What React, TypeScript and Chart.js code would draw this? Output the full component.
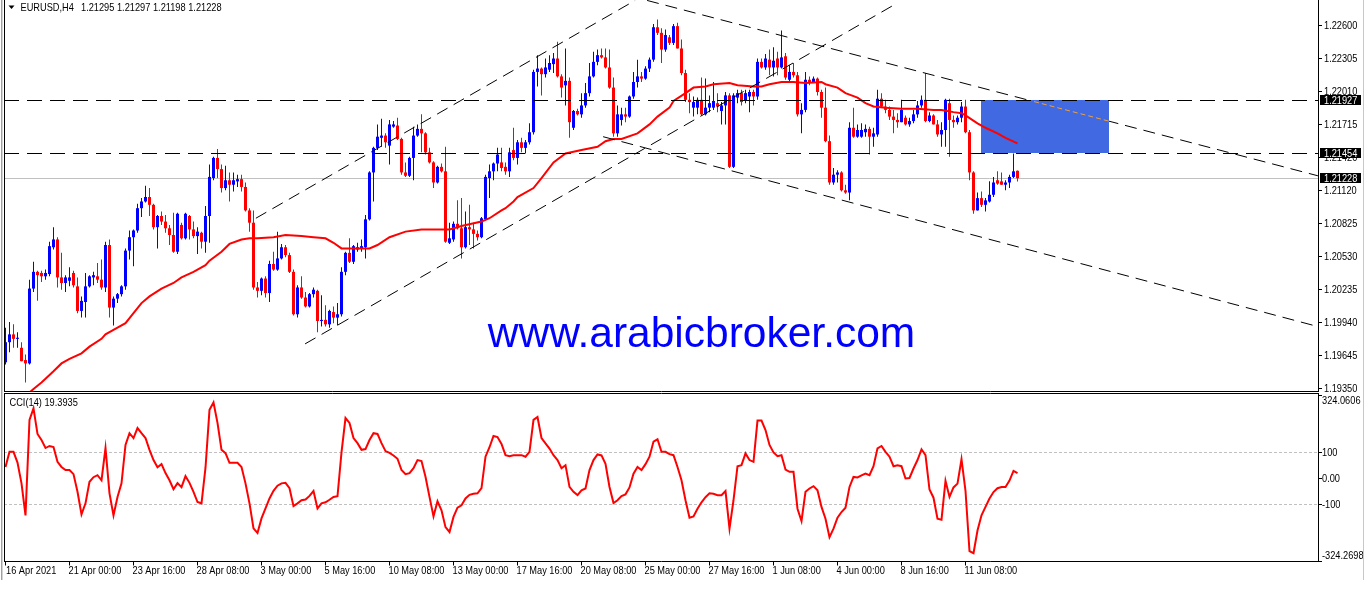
import { useEffect, useRef } from 'react';
import { Chart, registerables } from 'chart.js';

Chart.register(...registerables);

// ---------- DATA (EURUSD H4) ----------
const OPEN = [
1.1958,1.1976,1.1983,1.1979,1.1971,1.1960,1.1957,1.2024,1.2039,1.2038,
1.2035,1.2037,1.2061,1.2068,1.2034,1.2029,1.2031,1.2038,1.2026,1.2004,
1.2012,1.2026,1.2034,1.2035,1.2032,1.2025,1.2063,1.2007,1.2015,1.2019,
1.2026,1.2058,1.2070,1.2076,1.2096,1.2102,1.2106,1.2099,1.2079,1.2089,
1.2084,1.2078,1.2072,1.2057,1.2081,1.2069,1.2089,1.2077,1.2071,1.2074,
1.2066,1.2089,1.2123,1.2141,1.2131,1.2114,1.2121,1.2117,1.2120,1.2122,
1.2115,1.2094,1.2083,1.2025,1.2022,1.2033,1.2020,1.2046,1.2041,1.2051,
1.2061,1.2054,1.2039,1.2001,1.2025,1.2016,1.2008,1.2019,1.2022,1.1995,
1.1996,1.1992,1.2003,1.1998,1.2001,1.2039,1.2056,1.2048,1.2059,1.2060,
1.2061,1.2086,1.2128,1.2150,1.2159,1.2161,1.2152,1.2169,1.2170,1.2158,
1.2128,1.2125,1.2141,1.2161,1.2167,1.2163,1.2146,1.2137,1.2119,1.2133,
1.2129,1.2065,1.2068,1.2082,1.2078,1.2061,1.2079,1.2077,1.2073,1.2070,
1.2086,1.2123,1.2129,1.2136,1.2137,1.2133,1.2129,1.2148,1.2141,1.2155,
1.2150,1.2155,1.2164,1.2218,1.2221,1.2216,1.2220,1.2225,1.2230,1.2214,
1.2206,1.2210,1.2168,1.2183,1.2180,1.2188,1.2199,1.2214,1.2227,1.2233,
1.2231,1.2222,1.2204,1.2163,1.2175,1.2180,1.2178,1.2196,1.2209,1.2214,
1.2212,1.2221,1.2229,1.2258,1.2253,1.2238,1.2249,1.2244,1.2259,1.2239,
1.2217,1.2193,1.2186,1.2186,1.2193,1.2180,1.2186,1.2186,1.2190,1.2183,
1.2188,1.2197,1.2133,1.2195,1.2199,1.2192,1.2196,1.2200,1.2196,1.2227,
1.2222,1.2229,1.2222,1.2230,1.2222,1.2232,1.2211,1.2218,1.2215,1.2180,
1.2184,1.2211,1.2209,1.2212,1.2200,1.2186,1.2156,1.2119,1.2126,1.2128,
1.2112,1.2110,1.2168,1.2160,1.2160,1.2164,1.2167,1.2160,1.2162,1.2194,
1.2187,1.2184,1.2178,1.2175,1.2173,1.2177,1.2171,1.2174,1.2180,1.2188,
1.2193,1.2174,1.2179,1.2171,1.2162,1.2166,1.2190,1.2175,1.2173,1.2177,
1.2187,1.2164,1.2128,1.2094,1.2105,1.2099,1.2102,1.2108,1.2121,1.2120,
1.2117,1.2119,1.2124,1.21295
];
const HIGH = [
1.1989,1.1994,1.1992,1.1985,1.1976,1.1965,1.2032,1.2048,1.2040,1.2040,
1.2041,1.2066,1.2079,1.2070,1.2056,1.2036,1.2043,1.2040,1.2034,1.2017,
1.2038,1.2036,1.2039,1.2047,1.2050,1.2066,1.2068,1.2017,1.2020,1.2027,
1.2060,1.2076,1.2077,1.2100,1.2105,1.2116,1.2114,1.2100,1.2090,1.2093,
1.2090,1.2081,1.2092,1.2092,1.2083,1.2092,1.2090,1.2084,1.2079,1.2075,
1.2098,1.2135,1.2142,1.2149,1.2135,1.2134,1.2128,1.2128,1.2126,1.2126,
1.2119,1.2096,1.2094,1.2030,1.2034,1.2035,1.2049,1.2057,1.2075,1.2064,
1.2063,1.2056,1.2041,1.2027,1.2035,1.2021,1.2020,1.2025,1.2023,1.2018,
1.2009,1.2005,1.2008,1.2011,1.2043,1.2057,1.2069,1.2063,1.2065,1.2068,
1.2090,1.2129,1.2151,1.2171,1.2176,1.2163,1.2175,1.2174,1.2177,1.2159,
1.2137,1.2142,1.2169,1.2171,1.2180,1.2164,1.2150,1.2138,1.2134,1.2136,
1.2151,1.2083,1.2084,1.2103,1.2105,1.2093,1.2099,1.2083,1.2076,1.2088,
1.2126,1.2135,1.2137,1.2150,1.2150,1.2137,1.2150,1.2168,1.2157,1.2159,
1.2157,1.2172,1.2220,1.2233,1.2222,1.2230,1.2233,1.2235,1.2245,1.2216,
1.2239,1.2213,1.2184,1.2185,1.2199,1.2208,1.2226,1.2236,1.2238,1.2239,
1.2239,1.2238,1.2213,1.2188,1.2186,1.2186,1.2197,1.2218,1.2229,1.2218,
1.2223,1.2231,1.2261,1.2265,1.2257,1.2256,1.2251,1.2261,1.2262,1.2247,
1.2220,1.2199,1.2196,1.2195,1.2213,1.2212,1.2197,1.2209,1.2199,1.2191,
1.2200,1.2199,1.2199,1.2202,1.2202,1.2202,1.2202,1.2202,1.2230,1.2230,
1.2234,1.2238,1.2240,1.2236,1.2255,1.2235,1.2224,1.2226,1.2218,1.2190,
1.2218,1.2214,1.2214,1.2213,1.2202,1.2204,1.2161,1.2132,1.2130,1.2129,
1.2117,1.2173,1.2186,1.2171,1.2172,1.2171,1.2169,1.2168,1.2202,1.2199,
1.2193,1.2187,1.2184,1.2181,1.2193,1.2179,1.2177,1.2184,1.2192,1.2197,
1.2217,1.2182,1.2180,1.2175,1.2173,1.2194,1.2194,1.2179,1.2179,1.2191,
1.2193,1.2166,1.2129,1.2110,1.2111,1.2105,1.2120,1.2124,1.2129,1.2128,
1.2121,1.2126,1.2145,1.21297
];
const LOW = [
1.1956,1.1967,1.1971,1.1971,1.1959,1.1940,1.1956,1.2021,1.2013,1.2030,
1.2032,1.2035,1.2059,1.2025,1.2023,1.2021,1.2026,1.2025,1.2002,1.1998,
1.1998,1.2025,1.2027,1.2029,1.2023,1.2021,1.1998,1.1991,1.2011,1.2017,
1.2023,1.2050,1.2044,1.2074,1.2088,1.2101,1.2089,1.2077,1.2060,1.2081,
1.2074,1.2063,1.2056,1.2055,1.2068,1.2068,1.2068,1.2069,1.2055,1.2060,
1.2056,1.2065,1.2121,1.2123,1.2110,1.2112,1.2102,1.2111,1.2115,1.2111,
1.2093,1.2075,1.2023,1.2016,1.2018,1.2016,1.2012,1.2040,1.2040,1.2050,
1.2052,1.2038,1.2000,1.1998,1.2015,1.2007,1.2007,1.2016,1.1985,1.1990,
1.1990,1.1989,1.1993,1.1991,1.1999,1.2036,1.2047,1.2046,1.2057,1.2057,
1.2051,1.2085,1.2102,1.2148,1.2151,1.2150,1.2135,1.2168,1.2157,1.2126,
1.2124,1.2124,1.2121,1.2160,1.2146,1.2144,1.2136,1.2114,1.2118,1.2128,
1.2065,1.2064,1.2066,1.2077,1.2051,1.2060,1.2063,1.2060,1.2067,1.2069,
1.2085,1.2105,1.2121,1.2129,1.2129,1.2126,1.2124,1.2139,1.2135,1.2146,
1.2145,1.2153,1.2162,1.2205,1.2197,1.2213,1.2218,1.2217,1.2213,1.2195,
1.2188,1.2159,1.2166,1.2179,1.2177,1.2186,1.2196,1.2213,1.2224,1.2230,
1.2221,1.2203,1.2160,1.2160,1.2170,1.2173,1.2177,1.2194,1.2204,1.2209,
1.2211,1.2218,1.2227,1.2251,1.2226,1.2236,1.2242,1.2242,1.2239,1.2215,
1.2191,1.2181,1.2178,1.2180,1.2179,1.2179,1.2182,1.2184,1.2182,1.2171,
1.2171,1.2132,1.2132,1.2190,1.2188,1.2190,1.2182,1.2188,1.2193,1.2221,
1.2220,1.2215,1.2214,1.2215,1.2221,1.2211,1.2209,1.2213,1.2178,1.2163,
1.2182,1.2206,1.2208,1.2197,1.2177,1.2155,1.2117,1.2117,1.2119,1.2111,
1.2109,1.2103,1.2159,1.2159,1.2159,1.2160,1.2144,1.2151,1.2160,1.2186,
1.2181,1.2175,1.2163,1.2168,1.2173,1.2170,1.2169,1.2172,1.2177,1.2186,
1.2173,1.2173,1.2171,1.2160,1.2151,1.2151,1.2142,1.2168,1.2171,1.2173,
1.2163,1.2121,1.2091,1.2094,1.2097,1.2093,1.2101,1.2106,1.2117,1.2117,
1.2112,1.2114,1.2123,1.21198
];
const CLOSE = [
1.1976,1.1983,1.1979,1.1980,1.1959,1.1957,1.2024,1.2039,1.2036,1.2035,
1.2038,1.2062,1.2068,1.2034,1.2029,1.2034,1.2034,1.2027,1.2004,1.2013,
1.2026,1.2035,1.2036,1.2032,1.2025,1.2063,1.2007,1.2015,1.2019,1.2026,
1.2058,1.2070,1.2076,1.2096,1.2102,1.2106,1.2099,1.2079,1.2089,1.2084,
1.2078,1.2072,1.2057,1.2091,1.2069,1.2091,1.2077,1.2071,1.2075,1.2066,
1.2089,1.2124,1.2141,1.2131,1.2114,1.2121,1.2117,1.2121,1.2122,1.2115,
1.2094,1.2083,1.2025,1.2022,1.2033,1.2020,1.2046,1.2041,1.2051,1.2061,
1.2054,1.2039,1.2001,1.2025,1.2016,1.2008,1.2019,1.2023,1.1995,1.1996,
1.1992,1.2004,1.1998,1.2001,1.2039,1.2056,1.2048,1.2062,1.2061,1.2062,
1.2086,1.2128,1.2150,1.2160,1.2161,1.2155,1.2171,1.2171,1.2158,1.2128,
1.2125,1.2141,1.2161,1.2167,1.2163,1.2146,1.2137,1.2119,1.2133,1.2129,
1.2066,1.2069,1.2082,1.2078,1.2061,1.2079,1.2077,1.2073,1.2070,1.2087,
1.2124,1.2129,1.2136,1.2144,1.2132,1.2129,1.2146,1.2141,1.2155,1.2150,
1.2155,1.2164,1.2218,1.2221,1.2216,1.2222,1.2226,1.2230,1.2214,1.2204,
1.2210,1.2173,1.2183,1.2180,1.2188,1.2199,1.2214,1.2227,1.2233,1.2231,
1.2222,1.2204,1.2163,1.2180,1.2180,1.2178,1.2196,1.2209,1.2214,1.2212,
1.2221,1.2229,1.2258,1.2253,1.2238,1.2251,1.2244,1.2259,1.2239,1.2217,
1.2193,1.2191,1.2191,1.2193,1.2180,1.2186,1.2190,1.2192,1.2187,1.2188,
1.2197,1.2133,1.2197,1.2199,1.2191,1.2199,1.2200,1.2196,1.2227,1.2222,
1.2230,1.2222,1.2228,1.2222,1.2231,1.2213,1.2218,1.2215,1.2180,1.2184,
1.2211,1.2209,1.2212,1.2200,1.2186,1.2156,1.2119,1.2126,1.2128,1.2112,
1.2110,1.2168,1.2160,1.2166,1.2166,1.2167,1.2160,1.2163,1.2194,1.2187,
1.2184,1.2178,1.2175,1.2173,1.2184,1.2171,1.2174,1.2180,1.2188,1.2193,
1.2174,1.2179,1.2171,1.2162,1.2166,1.2193,1.2175,1.2173,1.2177,1.2187,
1.2164,1.2128,1.2094,1.2105,1.2099,1.2103,1.2108,1.2119,1.2118,1.2117,
1.2119,1.2124,1.2129,1.21228
];

// Moving average (read at sampled bars)
const MA_IDX = [6,7,9,12,14,16,19,21,24,25,28,30,32,34,36,39,42,44,47,50,51,54,56,59,61,63,67,70,74,77,80,82,84,86,91,93,96,100,104,107,111,114,119,121,124,125,127,128,132,134,137,140,144,148,150,152,154,158,161,163,166,167,170,172,175,177,181,183,187,189,191,194,197,200,204,205,208,210,213,215,217,220,224,228,232,234,237,239,240,243,245,248,250,253];
const MA_VAL = [1.1931,1.1934,1.1940,1.1950,1.1957,1.1961,1.1966,1.1972,1.1979,1.1983,1.1989,1.1993,1.2002,1.2011,1.2017,1.2024,1.2029,1.2034,1.2039,1.2045,1.2049,1.2057,1.2064,1.2068,1.2069,1.2069,1.2070,1.2072,1.2071,1.2070,1.2069,1.2065,1.2060,1.2060,1.2060,1.2063,1.2070,1.2075,1.2077,1.2077,1.2077,1.2080,1.2084,1.2087,1.2094,1.2096,1.2102,1.2106,1.2114,1.2123,1.2137,1.2145,1.2148,1.2151,1.2156,1.2158,1.2158,1.2163,1.2171,1.2178,1.2186,1.2192,1.2199,1.2204,1.2205,1.2207,1.2208,1.2206,1.2205,1.2205,1.2207,1.2209,1.2209,1.2208,1.2209,1.2207,1.2204,1.2199,1.2195,1.2190,1.2187,1.2186,1.2185,1.2185,1.2184,1.2184,1.2182,1.2181,1.2179,1.2172,1.2168,1.2163,1.2159,1.2154];

// CCI(14)
const CCI = [
43,102,102,60,-21,-146,227,272,172,148,
117,125,121,63,43,31,31,15,-54,-142,
-99,-15,3,11,-9,117,-60,-146,-74,-21,
129,175,156,195,175,156,110,70,42,54,
19,-9,-44,-20,-36,7,-19,-54,-94,-99,
40,266,295,215,110,97,59,59,59,43,
-21,-99,-197,-215,-158,-119,-80,-50,-30,-21,
-19,-40,-110,-99,-87,-84,-70,-51,-119,-99,
-95,-85,-74,-71,100,234,215,156,136,110,
113,148,175,172,136,105,98,88,75,31,
15,19,38,70,66,5,-74,-150,-91,-126,
-192,-211,-152,-116,-107,-80,-66,-62,-60,-40,
83,120,164,160,133,89,85,89,89,89,
83,102,227,238,156,135,115,89,70,38,
50,-35,-54,-67,-48,-41,31,70,92,88,
55,-35,-98,-87,-71,-64,-37,17,43,31,
54,83,142,151,102,102,93,89,43,-9,
-87,-155,-150,-120,-95,-75,-60,-62,-67,-67,
-51,-198,-87,46,50,96,70,63,224,224,
187,129,100,85,89,33,24,24,-120,-168,
-54,-41,-32,-48,-113,-159,-231,-198,-155,-133,
-116,-35,4,2,10,17,11,46,116,125,
102,83,46,50,46,-2,0,37,70,112,
89,-45,-77,-159,-163,-11,-74,-37,-22,73,
-50,-286,-294,-205,-146,-113,-80,-55,-40,-35,
-35,-10,28,19.3935
];

const SYMBOL = 'EURUSD,H4';
const PRICE_TICKS = [1.226, 1.22305, 1.2201, 1.21715, 1.2142, 1.2112, 1.20825, 1.2053, 1.20235, 1.1994, 1.19645, 1.1935];
const LEVELS = [1.21927, 1.21454];
const RECT_TIME = [243.9, 275.9];
const RECT_PRICE = [1.21927, 1.21454];
// [barIndex1, price1, barIndex2, price2]
const TREND_LINES = [
  [62.6, 1.2087, 157.4, 1.2282],
  [74.9, 1.19745, 223.1, 1.2280],
  [160.4, 1.2282, 328.1, 1.2125],
  [149.4, 1.2160, 328.1, 1.1990],
];
const TIME_IDX = [0,16,32,48,64,80,96,112,128,144,160,176,192,208,224,240];
const TIME_LABELS = ['16 Apr 2021','21 Apr 00:00','23 Apr 16:00','28 Apr 08:00','3 May 00:00','5 May 16:00','10 May 08:00','13 May 00:00','17 May 16:00','20 May 08:00','25 May 00:00','27 May 16:00','1 Jun 08:00','4 Jun 00:00','8 Jun 16:00','11 Jun 08:00'];
const CCI_TICKS = [324.0606, 100, 0, -100, -324.2698];
const CCI_TICK_LABELS = ['324.0606', '100', '0.00', '-100', '-324.2698'];
const CCI_LEVELS = [100, -100];
const WATERMARK = 'www.arabicbroker.com';

// ---------- LAYOUT / STYLE ----------
const W = 1368;
const MAIN_H = 392;
const CCI_H = 204;
const X_MIN = -0.375;
const X_MAX = 328.125;
const P_MIN = 1.19323;
const P_MAX = 1.22824;
const BULL = '#0000ff';
const BEAR = '#ff0000';
const FONT = '11px "Liberation Sans", Arial, sans-serif';
const SX = 0.84;

function txt(ctx: CanvasRenderingContext2D, s: string, x: number, y: number, color = '#000') {
  ctx.save();
  ctx.font = FONT;
  ctx.fillStyle = color;
  ctx.textBaseline = 'middle';
  ctx.textAlign = 'left';
  ctx.translate(x, y);
  ctx.scale(SX, 1);
  ctx.fillText(s, 0, 0);
  ctx.restore();
}

function borders(ctx: CanvasRenderingContext2D, h: number) {
  ctx.fillStyle = '#a0a0a0';
  ctx.fillRect(1, 0, 1, h);
  ctx.fillStyle = '#d4d4d4';
  ctx.fillRect(2, 0, 1, h);
  ctx.fillStyle = '#c8c8c8';
  ctx.fillRect(1363, 0, 1, h);
}

const mainPlugin = {
  id: 'mt4main',
  beforeDatasetsDraw(chart: any) {
    const { ctx, chartArea: a, scales } = chart;
    const xs = scales.x, ys = scales.y;
    ctx.save();
    const rx1 = Math.round(xs.getPixelForValue(RECT_TIME[0]));
    const rx2 = Math.round(xs.getPixelForValue(RECT_TIME[1]));
    const ry1 = Math.round(ys.getPixelForValue(RECT_PRICE[0]));
    const ry2 = Math.round(ys.getPixelForValue(RECT_PRICE[1]));
    ctx.fillStyle = '#4169e1';
    ctx.fillRect(rx1, ry1, rx2 - rx1, ry2 - ry1);
    const ly = Math.round(ys.getPixelForValue(CLOSE[CLOSE.length - 1])) + 0.5;
    ctx.strokeStyle = '#c0c0c0';
    ctx.lineWidth = 1;
    ctx.beginPath();
    ctx.moveTo(a.left, ly);
    ctx.lineTo(a.right, ly);
    ctx.stroke();
    ctx.restore();
  },
  afterDatasetsDraw(chart: any) {
    const { ctx, chartArea: a, scales } = chart;
    const xs = scales.x, ys = scales.y;
    const rx1 = Math.round(xs.getPixelForValue(RECT_TIME[0]));
    const rx2 = Math.round(xs.getPixelForValue(RECT_TIME[1]));
    const ry1 = Math.round(ys.getPixelForValue(RECT_PRICE[0]));
    const ry2 = Math.round(ys.getPixelForValue(RECT_PRICE[1]));
    const seg = (t: number[]) => {
      ctx.beginPath();
      ctx.moveTo(xs.getPixelForValue(t[0]), ys.getPixelForValue(t[1]));
      ctx.lineTo(xs.getPixelForValue(t[2]), ys.getPixelForValue(t[3]));
      ctx.stroke();
    };
    ctx.save();
    ctx.beginPath();
    ctx.rect(a.left, a.top, a.right - a.left, a.bottom - a.top);
    ctx.clip();
    ctx.strokeStyle = '#000';
    ctx.lineWidth = 1;
    ctx.setLineDash([15, 8]);
    for (const lv of LEVELS) {
      const py = Math.round(ys.getPixelForValue(lv)) + 0.5;
      ctx.beginPath();
      ctx.moveTo(a.left, py);
      ctx.lineTo(a.right, py);
      ctx.stroke();
    }
    ctx.restore();

    // trend lines outside rectangle (black)
    ctx.save();
    ctx.beginPath();
    ctx.rect(a.left, a.top, a.right - a.left, a.bottom - a.top);
    ctx.rect(rx1, ry1 + 1, rx2 - rx1, ry2 - ry1 - 1);
    ctx.clip('evenodd');
    ctx.strokeStyle = '#000';
    ctx.lineWidth = 1;
    ctx.setLineDash([12, 7]);
    for (const t of TREND_LINES) seg(t);
    ctx.restore();
    // inside rectangle (shown orange)
    ctx.save();
    ctx.beginPath();
    ctx.rect(rx1, ry1 + 1, rx2 - rx1, ry2 - ry1 - 1);
    ctx.clip();
    ctx.strokeStyle = '#f0a040';
    ctx.lineWidth = 1;
    ctx.setLineDash([5, 3]);
    for (const t of TREND_LINES) seg(t);
    ctx.restore();

    ctx.save();
    // watermark
    ctx.font = '42.5px "Liberation Sans", Arial, sans-serif';
    ctx.fillStyle = '#0000ff';
    ctx.textAlign = 'center';
    ctx.textBaseline = 'alphabetic';
    ctx.fillText(WATERMARK, 701.5, 347);

    // header
    ctx.fillStyle = '#000';
    ctx.beginPath();
    ctx.moveTo(8.5, 5.5);
    ctx.lineTo(14.5, 5.5);
    ctx.lineTo(11.5, 9);
    ctx.closePath();
    ctx.fill();
    const n = CLOSE.length - 1;
    txt(ctx, SYMBOL, 20.5, 7.5);
    txt(ctx, [OPEN[n], HIGH[n], LOW[n], CLOSE[n]].map((v) => v.toFixed(5)).join(' '), 81, 7.5);

    // frame
    ctx.strokeStyle = '#000';
    ctx.lineWidth = 1;
    ctx.beginPath();
    ctx.moveTo(a.left + 0.5, 0);
    ctx.lineTo(a.left + 0.5, a.bottom + 1);
    ctx.moveTo(a.right + 0.5, 0);
    ctx.lineTo(a.right + 0.5, a.bottom + 1);
    ctx.moveTo(a.left, a.bottom + 0.5);
    ctx.lineTo(a.right + 1, a.bottom + 0.5);
    ctx.stroke();

    // price axis
    for (const v of PRICE_TICKS) {
      const py = Math.round(ys.getPixelForValue(v)) + 0.5;
      ctx.beginPath();
      ctx.moveTo(a.right + 1, py);
      ctx.lineTo(a.right + 4, py);
      ctx.stroke();
      txt(ctx, v.toFixed(5), a.right + 6, py);
    }
    for (const v of [...LEVELS, CLOSE[n]]) {
      const py = Math.round(ys.getPixelForValue(v));
      ctx.fillStyle = '#000';
      ctx.fillRect(a.right + 2, py - 5, 41, 10);
      txt(ctx, v.toFixed(5), a.right + 6, py + 0.5, '#fff');
    }
    borders(ctx, MAIN_H);
    ctx.restore();
  },
};

const cciPlugin = {
  id: 'mt4cci',
  beforeDatasetsDraw(chart: any) {
    const { ctx, chartArea: a, scales } = chart;
    const ys = scales.y;
    ctx.save();
    ctx.strokeStyle = '#c0c0c0';
    ctx.lineWidth = 1;
    ctx.setLineDash([3, 2]);
    for (const lv of CCI_LEVELS) {
      const py = Math.round(ys.getPixelForValue(lv)) + 0.5;
      ctx.beginPath();
      ctx.moveTo(a.left, py);
      ctx.lineTo(a.right, py);
      ctx.stroke();
    }
    ctx.restore();
  },
  afterDatasetsDraw(chart: any) {
    const { ctx, chartArea: a, scales } = chart;
    const xs = scales.x, ys = scales.y;
    ctx.save();
    ctx.strokeStyle = '#000';
    ctx.lineWidth = 1;
    const top = 1.5, bot = a.bottom + 0.5;
    ctx.beginPath();
    ctx.moveTo(a.left, top);
    ctx.lineTo(a.right + 1, top);
    ctx.moveTo(a.left, bot);
    ctx.lineTo(a.right + 1, bot);
    ctx.moveTo(a.left + 0.5, top);
    ctx.lineTo(a.left + 0.5, bot);
    ctx.moveTo(a.right + 0.5, top);
    ctx.lineTo(a.right + 0.5, bot);
    ctx.stroke();

    txt(ctx, `CCI(14) ${CCI[CCI.length - 1].toFixed(4)}`, 9.5, 10.5);

    CCI_TICKS.forEach((v, k) => {
      const py = Math.round(ys.getPixelForValue(v)) + 0.5;
      ctx.beginPath();
      ctx.moveTo(a.right + 1, py);
      ctx.lineTo(a.right + 4, py);
      ctx.stroke();
      let ty = py;
      if (k === 0) ty = py + 5.5;
      if (k === CCI_TICKS.length - 1) ty = py - 5.5;
      txt(ctx, CCI_TICK_LABELS[k], a.right + 4, ty);
    });

    TIME_IDX.forEach((idx, k) => {
      const px = Math.round(xs.getPixelForValue(idx) - 0.5) + 0.5;
      ctx.beginPath();
      ctx.moveTo(px, bot);
      ctx.lineTo(px, bot + 4);
      ctx.stroke();
      txt(ctx, TIME_LABELS[k], Math.max(6, px - 1), a.bottom + 10);
    });
    borders(ctx, 188);
    ctx.restore();
  },
};

export default function App() {
  const mainRef = useRef<HTMLCanvasElement>(null);
  const cciRef = useRef<HTMLCanvasElement>(null);

  useEffect(() => {
    const colors = OPEN.map((o, i) => (CLOSE[i] >= o ? BULL : BEAR));
    const wickData = OPEN.map((o, i) => ({ x: i, y: [LOW[i], HIGH[i]] }));
    const bodyData = OPEN.map((o, i) => ({ x: i, y: [o, CLOSE[i]] }));
    const maData = MA_IDX.map((x, k) => ({ x, y: MA_VAL[k] }));
    const cciData = CCI.map((v, i) => ({ x: i, y: v }));

    const main = new Chart(mainRef.current as HTMLCanvasElement, {
      type: 'bar',
      data: {
        datasets: [
          {
            type: 'line',
            data: maData,
            borderColor: '#ff0000',
            borderWidth: 2,
            pointRadius: 0,
            tension: 0,
            order: 0,
          } as any,
          {
            type: 'bar',
            data: bodyData,
            backgroundColor: colors,
            barThickness: 3,
            grouped: false,
            minBarLength: 1,
            inflateAmount: 0,
            borderWidth: 0,
            order: 1,
          } as any,
          {
            type: 'bar',
            data: wickData,
            backgroundColor: colors,
            barThickness: 1,
            grouped: false,
            inflateAmount: 0,
            borderWidth: 0,
            order: 2,
          } as any,
        ],
      },
      options: {
        responsive: false,
        animation: false,
        devicePixelRatio: 1,
        events: [],
        layout: { padding: { left: 4, right: 50, top: 0, bottom: 1 } },
        plugins: { legend: { display: false }, tooltip: { enabled: false } },
        scales: {
          x: { type: 'linear', min: X_MIN, max: X_MAX, display: false, offset: false },
          y: { type: 'linear', min: P_MIN, max: P_MAX, display: false },
        },
      } as any,
      plugins: [mainPlugin],
    });

    const cci = new Chart(cciRef.current as HTMLCanvasElement, {
      type: 'line',
      data: {
        datasets: [
          {
            data: cciData,
            borderColor: '#ff0000',
            borderWidth: 2,
            pointRadius: 0,
            tension: 0,
          } as any,
        ],
      },
      options: {
        responsive: false,
        animation: false,
        devicePixelRatio: 1,
        events: [],
        layout: { padding: { left: 4, right: 50, top: 3, bottom: 35 } },
        plugins: { legend: { display: false }, tooltip: { enabled: false } },
        scales: {
          x: { type: 'linear', min: X_MIN, max: X_MAX, display: false },
          y: { type: 'linear', min: -324.2698, max: 324.0606, display: false },
        },
      } as any,
      plugins: [cciPlugin],
    });

    return () => {
      main.destroy();
      cci.destroy();
    };
  }, []);

  return (
    <div style={{ position: 'absolute', left: 0, top: 0, width: W, height: 596, background: '#fff' }}>
      <canvas
        ref={mainRef}
        width={W}
        height={MAIN_H}
        style={{ position: 'absolute', left: 0, top: 0, width: W, height: MAIN_H, display: 'block' }}
      />
      <canvas
        ref={cciRef}
        width={W}
        height={CCI_H}
        style={{ position: 'absolute', left: 0, top: MAIN_H, width: W, height: CCI_H, display: 'block' }}
      />
    </div>
  );
}
